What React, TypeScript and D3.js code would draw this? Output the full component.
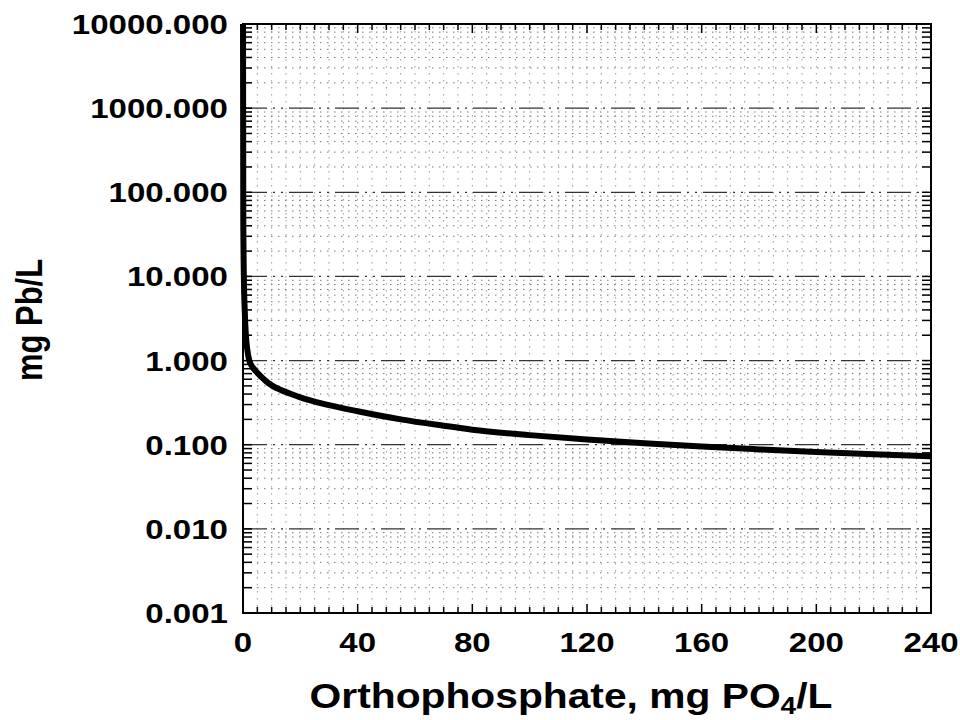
import React from "react";
import * as d3 from "d3";

const phosphate = [0, 0.1, 0.3, 0.6, 1.0, 1.5, 2.2, 3.0, 4.0, 5.1, 6.5, 8, 10.3, 13, 16, 20, 25, 30, 40, 55, 70, 80, 100, 120, 140, 160, 180, 200, 220, 240];
const leadMg = [10000, 50, 10, 4, 2.0, 1.35, 1.0, 0.87, 0.78, 0.71, 0.635, 0.57, 0.5, 0.45, 0.41, 0.365, 0.325, 0.295, 0.25, 0.2, 0.168, 0.151, 0.13, 0.115, 0.104, 0.095, 0.088, 0.082, 0.077, 0.073];
const xTicks = [0, 40, 80, 120, 160, 200, 240];
const yTicks = [10000, 1000, 100, 10, 1, 0.1, 0.01, 0.001];
const yTickLabels = ["10000.000", "1000.000", "100.000", "10.000", "1.000", "0.100", "0.010", "0.001"];

const W = 960, H = 720;
const L = 243, R = 931, T = 24, B = 613;
const FONT = "'Liberation Sans', Arial, sans-serif";
const FS = 28;
const SX = 1.18;

function textLen(s: string, fs: number) {
  let w = 0;
  for (const c of s) {
    if (c === ".") w += 0.278;
    else if (/[0-9]/.test(c)) w += 0.556;
    else w += 0.6;
  }
  return w * fs * SX;
}

export default function App() {
  const x = d3.scaleLinear().domain([0, 240]).range([L, R]);
  const y = d3.scaleLog().domain([0.001, 10000]).range([B, T]);
  const line = d3
    .line<number>()
    .x((_, i) => x(phosphate[i]))
    .y((d) => y(d))
    .curve(d3.curveMonotoneX);

  const minorX = d3.range(0, 241, 5);
  const minorY: number[] = [];
  for (let e = -3; e < 4; e++) {
    for (let k = 2; k <= 9; k++) minorY.push(k * Math.pow(10, e));
  }

  return (
    <svg width={W} height={H} style={{ position: "absolute", left: 0, top: 0, background: "#fff" }}>
      {/* vertical dotted grid */}
      {minorX.slice(1, -1).map((v) => (
        <line key={"vx" + v} x1={x(v)} x2={x(v)} y1={T} y2={B} stroke="#999" strokeWidth={1} strokeDasharray="1.5,5.5" />
      ))}
      {/* horizontal minor grid */}
      {minorY.map((v, i) => (
        <line key={"hy" + i} x1={L} x2={R} y1={y(v)} y2={y(v)} stroke="#777" strokeWidth={1} strokeDasharray="1.5,5.5" />
      ))}
      {/* horizontal major grid */}
      {yTicks.slice(1, -1).map((v) => (
        <line key={"my" + v} x1={L} x2={R} y1={y(v)} y2={y(v)} stroke="#333" strokeWidth={1.2} strokeDasharray="24,6,2,6,2,6" />
      ))}
      {/* ticks */}
      {minorX.map((v) => {
        const major = v % 40 === 0;
        const len = major ? 9 : 6;
        return (
          <g key={"tx" + v}>
            <line x1={x(v)} x2={x(v)} y1={B} y2={B - len} stroke="#000" strokeWidth={1.5} />
            <line x1={x(v)} x2={x(v)} y1={T} y2={T + len} stroke="#000" strokeWidth={1.5} />
          </g>
        );
      })}
      {minorY.concat(yTicks).map((v, i) => (
        <g key={"ty" + i}>
          <line x1={L} x2={L + 9} y1={y(v)} y2={y(v)} stroke="#000" strokeWidth={1.5} />
          <line x1={R} x2={R - 9} y1={y(v)} y2={y(v)} stroke="#000" strokeWidth={1.5} />
        </g>
      ))}
      {/* frame */}
      <rect x={L} y={T} width={R - L} height={B - T} fill="none" stroke="#000" strokeWidth={2} />
      {/* curve */}
      <path d={line(leadMg) || ""} fill="none" stroke="#000" strokeWidth={6} strokeLinejoin="round" />
      {/* y tick labels */}
      {yTicks.map((v, i) => (
        <text
          key={"yl" + v}
          x={228}
          y={y(v) + 10}
          textAnchor="end"
          fontFamily={FONT}
          fontWeight="bold"
          fontSize={FS}
          textLength={textLen(yTickLabels[i], FS)}
          lengthAdjust="spacingAndGlyphs"
        >
          {yTickLabels[i]}
        </text>
      ))}
      {/* x tick labels */}
      {xTicks.map((v) => (
        <text
          key={"xl" + v}
          x={x(v)}
          y={652}
          textAnchor="middle"
          fontFamily={FONT}
          fontWeight="bold"
          fontSize={FS}
          textLength={textLen(String(v), FS)}
          lengthAdjust="spacingAndGlyphs"
        >
          {v}
        </text>
      ))}
      {/* x title */}
      <g transform={`translate(571,708) scale(1.165,1)`}>
        <text x={0} y={0} textAnchor="middle" fontFamily={FONT} fontWeight="bold" fontSize={35}>
          Orthophosphate, mg PO<tspan fontSize={24} dy={6}>4</tspan>
          <tspan dy={-6}>/L</tspan>
        </text>
      </g>
      {/* y title */}
      <g transform={`translate(42,320) scale(${SX},1) rotate(-90)`}>
        <text x={0} y={0} textAnchor="middle" fontFamily={FONT} fontWeight="bold" fontSize={31}>
          mg Pb/L
        </text>
      </g>
    </svg>
  );
}
